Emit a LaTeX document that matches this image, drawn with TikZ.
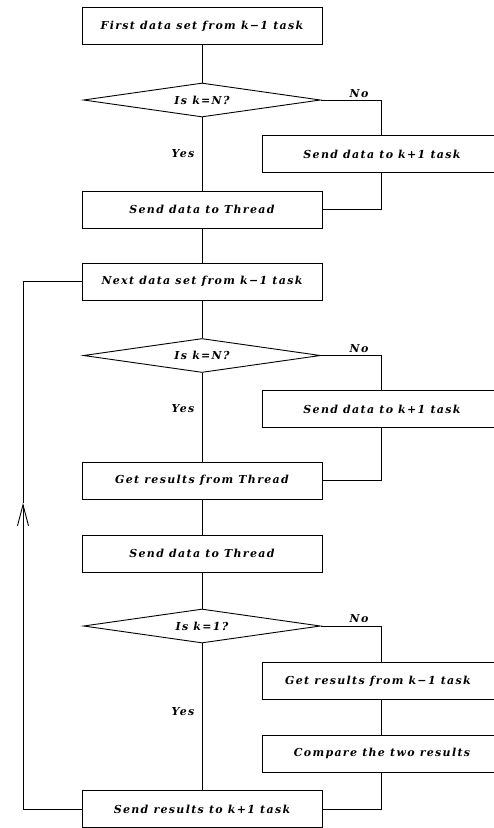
\documentclass[tikz,border=0pt]{standalone}
\usepackage{fontspec}
\setmainfont{DejaVu Serif}[LetterSpace=12]
\usetikzlibrary{shapes.geometric,arrows.meta}
\tikzset{
  txt/.style={font=\fontsize{11}{13}\selectfont\bfseries\itshape},
  box/.style={draw,line width=0.9pt,rectangle,minimum width=240pt,minimum height=37pt,inner sep=0pt,txt},
  sidebox/.style={box,minimum width=232pt},
  cond/.style={draw,line width=0.9pt,diamond,aspect=7,minimum width=237pt,minimum height=34pt,inner sep=0pt,txt},
  lbl/.style={txt,inner sep=0pt},
  conn/.style={line width=0.9pt},
}
\begin{document}
\begin{tikzpicture}[x=1pt,y=-1pt]
\useasboundingbox (0,0) rectangle (494,828);
% main column
\node[box] (b1) at (202,26) {First data set from k−1 task};
\node[cond] (d1) at (202,100) {Is k=N?};
\node[sidebox] (s1) at (378,154) {\hspace*{8pt}Send data to k+1 task};
\node[box] (b2) at (202,209.5) {Send data to Thread};
\node[box] (b3) at (202,281.5) {Next data set from k−1 task};
\node[cond] (d2) at (202,355.5) {Is k=N?};
\node[sidebox] (s2) at (378,409) {\hspace*{8pt}Send data to k+1 task};
\node[box] (b4) at (202,480.5) {Get results from Thread};
\node[box] (b5) at (202,553.5) {Send data to Thread};
\node[cond] (d3) at (202,626) {Is k=1?};
\node[sidebox] (s3) at (378,681) {Get results from k−1 task};
\node[sidebox] (s4) at (378,753.5) {\hspace*{8pt}Compare the two results};
\node[box] (b6) at (202,809) {Send results to k+1 task};
% labels
\node[lbl] (y1) at (183,154) {Yes};
\node[lbl] (y2) at (183,409) {Yes};
\node[lbl] (y3) at (183,712) {Yes};
\node[lbl] (n1) at (359,94) {No};
\node[lbl] (n2) at (359,349) {No};
\node[lbl] (n3) at (359,619) {No};
% coordinates
\coordinate (c1) at (381,100);
\coordinate (c2) at (381,209.5);
\coordinate (c3) at (381,355.5);
\coordinate (c4) at (381,480.5);
\coordinate (c5) at (381,626);
\coordinate (c6) at (381,809);
\coordinate (la) at (23,503);
% main connectors
\draw[conn] (b1) -- (d1);
\draw[conn] (d1) -- (b2);
\draw[conn] (b2) -- (b3);
\draw[conn] (b3) -- (d2);
\draw[conn] (d2) -- (b4);
\draw[conn] (b4) -- (b5);
\draw[conn] (b5) -- (d3);
\draw[conn] (d3) -- (b6);
% side branches
\draw[conn] (d1.east) -- (c1) -- (c1 |- s1.north);
\draw[conn] (c1 |- s1.south) -- (c2) -- (b2.east);
\draw[conn] (d2.east) -- (c3) -- (c3 |- s2.north);
\draw[conn] (c3 |- s2.south) -- (c4) -- (b4.east);
\draw[conn] (d3.east) -- (c5) -- (c5 |- s3.north);
\draw[conn] (c5 |- s3.south) -- (c5 |- s4.north);
\draw[conn] (c5 |- s4.south) -- (c6) -- (b6.east);
% loop back
\draw[conn,-{Straight Barb[length=21pt,width=11pt]}] (b6.west) -| (la);
\draw[conn] (la) |- (b3.west);
\end{tikzpicture}
\end{document}
